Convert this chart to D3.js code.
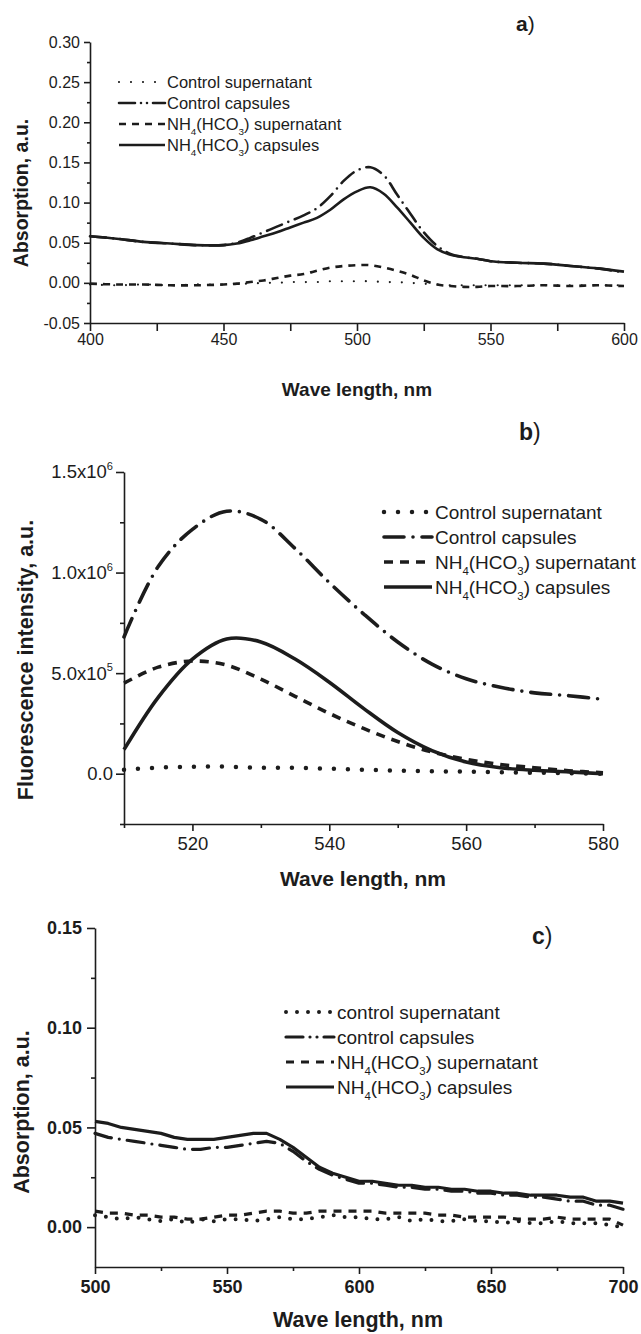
<!DOCTYPE html>
<html>
<head>
<meta charset="utf-8">
<script src="https://cdn.jsdelivr.net/npm/d3@7"></script>
<style>
  body { margin: 0; background: #fff; }
  svg { display: block; font-family: "Liberation Sans", Arial, sans-serif; }
</style>
</head>
<body>
<div id="chart"></div>
<script>
// ---------- panel a) absorption 400-600 nm
const aWave = [400,410,420,430,440,450,455,460,465,470,475,480,485,490,495,500,505,510,515,520,525,530,535,540,545,550,560,570,580,590,600];
const aCtrlSup = [-0.002,-0.003,-0.002,-0.003,-0.002,-0.002,-0.001,-0.001,0,0,0.001,0.001,0.001,0.002,0.002,0.002,0.002,0.001,0.001,0,-0.001,-0.002,-0.003,-0.003,-0.003,-0.003,-0.003,-0.003,-0.003,-0.003,-0.003];
const aCtrlCap = [0.058,0.055,0.051,0.049,0.047,0.047,0.050,0.056,0.063,0.070,0.077,0.084,0.093,0.108,0.127,0.140,0.144,0.134,0.110,0.086,0.063,0.046,0.036,0.032,0.030,0.027,0.025,0.024,0.021,0.018,0.013];
const aNhSup = [-0.001,-0.002,-0.002,-0.003,-0.003,-0.002,-0.001,0.001,0.003,0.006,0.009,0.011,0.015,0.019,0.021,0.022,0.022,0.019,0.015,0.010,0.003,-0.002,-0.004,-0.005,-0.005,-0.004,-0.004,-0.003,-0.004,-0.003,-0.004];
const aNhCap = [0.058,0.055,0.051,0.049,0.047,0.047,0.049,0.053,0.058,0.063,0.069,0.075,0.081,0.091,0.104,0.114,0.119,0.111,0.094,0.075,0.056,0.042,0.035,0.032,0.030,0.027,0.025,0.024,0.021,0.018,0.014];
const aLegend = ["Control supernatant", "Control capsules", "NH_4(HCO_3) supernatant", "NH_4(HCO_3) capsules"];

// ---------- panel b) fluorescence 510-580 nm
const bWave = [510,515,520,525,530,535,540,545,550,555,560,565,570,575,580];
const bCtrlSup = [20000,30000,35000,35000,30000,30000,25000,20000,15000,12000,10000,7000,5000,3000,0];
const bCtrlCap = [680000,1030000,1215000,1305000,1265000,1120000,950000,795000,655000,545000,472000,430000,402000,388000,370000];
const bNhSup = [450000,530000,560000,540000,470000,385000,300000,225000,160000,108000,72000,46000,30000,15000,5000];
const bNhCap = [120000,380000,570000,670000,655000,570000,455000,325000,205000,115000,58000,30000,17000,9000,0];
const bLegend = ["Control supernatant", "Control capsules", "NH_4(HCO_3) supernatant", "NH_4(HCO_3) capsules"];

// ---------- panel c) absorption 500-700 nm
const cWave = [500,505,510,515,520,525,530,535,540,545,550,555,560,565,570,575,580,585,590,595,600,605,610,615,620,625,630,635,640,645,650,655,660,665,670,675,680,685,690,695,700];
const cCtrlSup = [0.006,0.005,0.004,0.005,0.004,0.003,0.004,0.002,0.004,0.003,0.004,0.004,0.003,0.004,0.005,0.004,0.004,0.005,0.006,0.005,0.005,0.004,0.004,0.005,0.003,0.004,0.003,0.003,0.004,0.003,0.003,0.002,0.003,0.002,0.002,0.003,0.002,0.002,0.002,0.001,0.000];
const cCtrlCap = [0.047,0.045,0.044,0.043,0.042,0.041,0.040,0.039,0.039,0.040,0.040,0.041,0.042,0.043,0.042,0.038,0.033,0.029,0.026,0.024,0.022,0.022,0.021,0.020,0.020,0.019,0.019,0.018,0.018,0.017,0.017,0.016,0.016,0.015,0.015,0.014,0.013,0.013,0.011,0.011,0.009];
const cNhSup = [0.008,0.007,0.007,0.006,0.006,0.005,0.005,0.004,0.004,0.005,0.006,0.006,0.007,0.008,0.008,0.007,0.007,0.008,0.008,0.008,0.008,0.008,0.007,0.007,0.007,0.007,0.006,0.006,0.005,0.005,0.005,0.005,0.004,0.004,0.004,0.005,0.004,0.004,0.004,0.004,0.001];
const cNhCap = [0.053,0.052,0.050,0.049,0.048,0.047,0.045,0.044,0.044,0.044,0.045,0.046,0.047,0.047,0.044,0.040,0.035,0.030,0.027,0.025,0.023,0.023,0.022,0.021,0.021,0.020,0.020,0.019,0.019,0.018,0.018,0.017,0.017,0.016,0.016,0.016,0.015,0.015,0.013,0.013,0.012];
const cLegend = ["control supernatant", "control capsules", "NH_4(HCO_3) supernatant", "NH_4(HCO_3) capsules"];

const ink = "#1c1c1c";

const svg = d3.select("#chart").append("svg")
    .attr("width", 641)
    .attr("height", 1334);

// writes "NH_4(HCO_3)" style labels with subscripts
function richLabel(sel, str, size) {
    const shift = size * 0.3;
    let back = 0;
    str.split(/(_\d)/).forEach(part => {
        if (!part) return;
        if (part[0] === "_") {
            sel.append("tspan").attr("font-size", size * 0.6).attr("dy", shift).text(part[1]);
            back = -shift;
        } else {
            sel.append("tspan").attr("dy", back).text(part);
            back = 0;
        }
    });
}

function drawPanel(p) {
    const g = svg.append("g");
    const x = d3.scaleLinear().domain(p.xDomain).range([p.left, p.right]);
    const y = d3.scaleLinear().domain(p.yDomain).range([p.bottom, p.top]);

    // minor ticks
    const xm = g.append("g").attr("transform", `translate(0,${p.bottom})`)
        .call(d3.axisBottom(x).tickValues(p.xMinor).tickSize(p.xMinorLen).tickFormat(""));
    const ym = g.append("g").attr("transform", `translate(${p.left},0)`)
        .call(d3.axisLeft(y).tickValues(p.yMinor).tickSize(p.yMinorLen).tickFormat(""));
    xm.select(".domain").remove();
    ym.select(".domain").remove();

    // major ticks + labels
    const xa = g.append("g").attr("transform", `translate(0,${p.bottom})`)
        .call(d3.axisBottom(x).tickValues(p.xMajor).tickSize(p.xMajorLen).tickSizeOuter(0)
            .tickPadding(p.xPad).tickFormat(d => d));
    const ya = g.append("g").attr("transform", `translate(${p.left},0)`)
        .call(d3.axisLeft(y).tickValues(p.yMajor).tickSize(p.yMajorLen).tickSizeOuter(0)
            .tickPadding(p.yPad).tickFormat(p.yFormat));

    g.selectAll(".domain, .tick line").attr("stroke", ink).attr("stroke-width", 1.6);
    g.selectAll(".tick text")
        .attr("fill", ink)
        .attr("font-family", "Liberation Sans, Arial, sans-serif")
        .attr("font-size", p.tickFont)
        .attr("font-weight", p.tickBold ? "bold" : "normal");

    if (p.sciLabels) {
        ya.selectAll(".tick text").each(function(d) {
            const t = d3.select(this).text(null);
            if (d === 0) { t.text("0.0"); return; }
            const e = Math.floor(Math.log10(d));
            t.append("tspan").text((d / Math.pow(10, e)).toFixed(1) + "x10");
            t.append("tspan").attr("font-size", p.tickFont * 0.6).attr("dy", -p.tickFont * 0.45).text(e);
        });
    }

    // curves
    const line = d3.line()
        .x(d => x(d[0]))
        .y(d => y(d[1]))
        .curve(p.curve);
    p.series.forEach((vals, i) => {
        const st = p.styles[i];
        g.append("path")
            .datum(p.wave.map((w, j) => [w, vals[j]]))
            .attr("d", line)
            .attr("fill", "none")
            .attr("stroke", ink)
            .attr("stroke-width", st.w)
            .attr("stroke-linecap", st.cap)
            .attr("stroke-linejoin", "round")
            .attr("stroke-dasharray", st.dash);
    });

    // legend
    const lg = g.append("g");
    p.legend.forEach((name, i) => {
        const st = p.styles[i];
        const ry = p.legendRows[i];
        lg.append("line")
            .attr("x1", p.legendX0).attr("x2", p.legendX1)
            .attr("y1", ry).attr("y2", ry)
            .attr("stroke", ink)
            .attr("stroke-width", st.w)
            .attr("stroke-linecap", st.cap)
            .attr("stroke-dasharray", st.legendDash || st.dash);
        const t = lg.append("text")
            .attr("x", p.legendTextX)
            .attr("y", ry + p.legendFont * 0.36)
            .attr("font-size", p.legendFont)
            .attr("fill", ink);
        richLabel(t, name, p.legendFont);
    });

    // axis titles
    g.append("text")
        .attr("x", p.xTitlePos[0]).attr("y", p.xTitlePos[1])
        .attr("text-anchor", "middle")
        .attr("font-size", p.titleFont)
        .attr("font-weight", "bold")
        .attr("fill", ink)
        .text("Wave length, nm");
    g.append("text")
        .attr("transform", `translate(${p.yTitlePos[0]},${p.yTitlePos[1]}) rotate(-90)`)
        .attr("text-anchor", "middle")
        .attr("font-size", p.yTitleFont)
        .attr("font-weight", "bold")
        .attr("fill", ink)
        .text(p.yTitle);

    // panel letter
    const lt = g.append("text")
        .attr("x", p.letterPos[0]).attr("y", p.letterPos[1])
        .attr("font-size", p.letterFont)
        .attr("fill", ink);
    lt.append("tspan").attr("font-weight", "bold").text(p.letter);
    lt.append("tspan").attr("font-weight", "normal").text(")");
}

drawPanel({
    wave: aWave,
    series: [aCtrlSup, aCtrlCap, aNhSup, aNhCap],
    legend: aLegend,
    left: 90, right: 624, top: 42, bottom: 323,
    xDomain: [400, 600], yDomain: [-0.05, 0.30],
    xMajor: [400, 450, 500, 550, 600], xMinor: [425, 475, 525, 575],
    yMajor: d3.range(-0.05, 0.301, 0.05), yMinor: d3.range(-0.025, 0.3, 0.05),
    xMajorLen: 8, xMinorLen: 8, yMajorLen: 6, yMinorLen: 3,
    xPad: 3, yPad: 4,
    yFormat: d => d.toFixed(2),
    tickFont: 16, tickBold: false,
    curve: d3.curveCatmullRom,
    styles: [
        { w: 2.2, cap: "round", dash: "0,12" },
        { w: 2.6, cap: "round", dash: "16,7,0,7" , legendDash: "16,6,0,6,0,6" },
        { w: 2.6, cap: "butt", dash: "7,6" },
        { w: 2.6, cap: "butt", dash: null }
    ],
    legendX0: 119, legendX1: 165, legendTextX: 167,
    legendRows: [82, 103, 124, 145], legendFont: 16.5,
    titleFont: 19, yTitleFont: 19.5,
    xTitlePos: [357, 396], yTitlePos: [28, 193],
    yTitle: "Absorption, a.u.",
    letter: "a", letterPos: [516, 31], letterFont: 21
});

drawPanel({
    wave: bWave,
    series: [bCtrlSup, bCtrlCap, bNhSup, bNhCap],
    legend: bLegend,
    left: 124, right: 603, top: 472, bottom: 824,
    xDomain: [510, 580], yDomain: [-250000, 1500000],
    xMajor: [520, 540, 560, 580], xMinor: [510, 530, 550, 570],
    yMajor: [0, 500000, 1000000, 1500000], yMinor: [-250000, 250000, 750000, 1250000],
    xMajorLen: 7, xMinorLen: 4, yMajorLen: 8, yMinorLen: 4,
    xPad: 6, yPad: 3,
    yFormat: d => d,
    sciLabels: true,
    tickFont: 18.5, tickBold: false,
    curve: d3.curveCatmullRom,
    styles: [
        { w: 4.5, cap: "round", dash: "0,14" },
        { w: 3.6, cap: "round", dash: "20,9,0,9" },
        { w: 3.6, cap: "butt", dash: "9,7" },
        { w: 3.6, cap: "butt", dash: null }
    ],
    legendX0: 384, legendX1: 432, legendTextX: 435,
    legendRows: [512, 537, 562, 587], legendFont: 19,
    titleFont: 21, yTitleFont: 21.5,
    xTitlePos: [363, 886], yTitlePos: [33, 660],
    yTitle: "Fluorescence intensity, a.u.",
    letter: "b", letterPos: [519, 440], letterFont: 23
});

drawPanel({
    wave: cWave,
    series: [cCtrlSup, cCtrlCap, cNhSup, cNhCap],
    legend: cLegend,
    left: 95, right: 623, top: 928, bottom: 1267,
    xDomain: [500, 700], yDomain: [-0.02, 0.15],
    xMajor: [500, 550, 600, 650, 700], xMinor: [525, 575, 625, 675],
    yMajor: [0, 0.05, 0.10, 0.15], yMinor: [0.025, 0.075, 0.125],
    xMajorLen: 7, xMinorLen: 4, yMajorLen: 8, yMinorLen: 4,
    xPad: 6, yPad: 5,
    yFormat: d => d.toFixed(2),
    tickFont: 18, tickBold: true,
    curve: d3.curveLinear,
    styles: [
        { w: 4, cap: "round", dash: "0,11" },
        { w: 3.2, cap: "round", dash: "17,8,0,8", legendDash: "17,7,0,7,0,7" },
        { w: 3.2, cap: "butt", dash: "8,7" },
        { w: 3.2, cap: "butt", dash: null }
    ],
    legendX0: 286, legendX1: 334, legendTextX: 337,
    legendRows: [1012, 1037, 1062, 1087], legendFont: 19,
    titleFont: 21.5, yTitleFont: 21.5,
    xTitlePos: [358, 1327], yTitlePos: [29, 1112],
    yTitle: "Absorption, a.u.",
    letter: "c", letterPos: [532, 944], letterFont: 23
});
</script>
</body>
</html>
